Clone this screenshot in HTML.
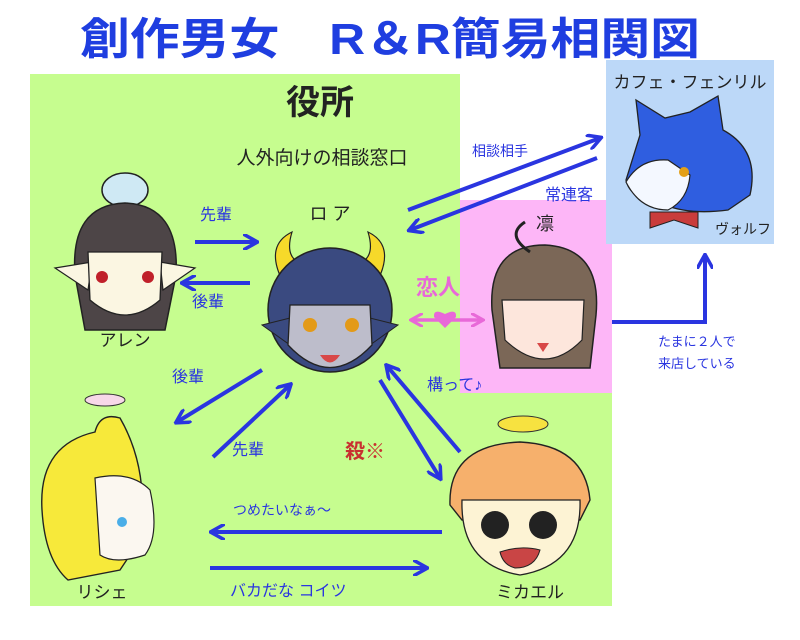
<!DOCTYPE html>
<html><head><meta charset="utf-8"><style>
html,body{margin:0;padding:0;background:#fff;width:800px;height:640px;overflow:hidden}
svg text{font-family:"Liberation Sans","Noto Sans CJK JP",sans-serif}
</style></head><body>
<svg width="800" height="640" viewBox="0 0 800 640" xmlns="http://www.w3.org/2000/svg">
<defs>
<marker id="a" viewBox="0 0 10 10" refX="8" refY="5" markerWidth="4" markerHeight="4" orient="auto-start-reverse"><path d="M0,0 L9,5 L0,10" fill="none" stroke="#2a35e0" stroke-width="2.2"/></marker>
<marker id="p" viewBox="0 0 10 10" refX="8" refY="5" markerWidth="4" markerHeight="4" orient="auto-start-reverse"><path d="M0,0 L9,5 L0,10" fill="none" stroke="#e868d8" stroke-width="2.2"/></marker>
</defs>
<rect x="30" y="74" width="430" height="532" fill="#c6fd8f"/>
<rect x="460" y="393" width="152" height="213" fill="#c6fd8f"/>
<rect x="460" y="200" width="152" height="193" fill="#fdb6f7"/>
<rect x="606" y="60" width="168" height="184" fill="#bcd8f8"/>
<text x="390" y="54" font-size="44" font-weight="bold" fill="#1f3ee0" text-anchor="middle" textLength="620" lengthAdjust="spacingAndGlyphs">創作男女　R＆R簡易相関図</text>
<text x="320" y="114" font-size="34" font-weight="bold" fill="#222" text-anchor="middle">役所</text>
<text x="322" y="164" font-size="19" fill="#222" text-anchor="middle">人外向けの相談窓口</text>
<text x="690" y="88" font-size="17" fill="#222" text-anchor="middle">カフェ・フェンリル</text>
<!-- Allen -->
<ellipse cx="125" cy="190" rx="23" ry="17" fill="#cfe9f4" stroke="#222" stroke-width="1.5"/>
<path d="M75,275 Q70,205 125,203 Q180,205 176,275 L165,330 L85,330 Z" fill="#4d4547" stroke="#222" stroke-width="1.5"/>
<path d="M55,268 L92,262 L88,290 Z M195,268 L160,262 L163,290 Z" fill="#fbf6e2" stroke="#222" stroke-width="1.2"/>
<path d="M88,252 L162,252 L160,300 Q125,330 90,300 Z" fill="#fbf6e2" stroke="#222" stroke-width="1.3"/>
<circle cx="102" cy="277" r="6" fill="#c0202a"/><circle cx="148" cy="277" r="6" fill="#c0202a"/>
<text x="125" y="346" font-size="17" fill="#222" text-anchor="middle">アレン</text>
<!-- Roa -->
<path d="M282,280 Q265,245 292,232 Q285,255 298,262 Z M378,280 Q395,245 368,232 Q375,255 362,262 Z" fill="#f6d92a" stroke="#222" stroke-width="1.2"/>
<ellipse cx="330" cy="310" rx="62" ry="62" fill="#3a4a80" stroke="#222" stroke-width="1.5"/>
<path d="M262,325 L290,318 L290,345 Z M398,325 L370,318 L370,345 Z" fill="#3a4a80" stroke="#222"/>
<path d="M290,305 L370,305 L372,345 Q330,390 288,345 Z" fill="#bdbdcb" stroke="#222" stroke-width="1.3"/>
<circle cx="310" cy="325" r="7" fill="#e39a18"/><circle cx="352" cy="325" r="7" fill="#e39a18"/>
<path d="M320,355 L340,355 Q330,370 320,355Z" fill="#d84848"/>
<text x="330" y="220" font-size="18" fill="#222" text-anchor="middle">ロ ア</text>
<!-- Rin -->
<path d="M492,310 Q488,245 545,245 Q602,248 596,315 L590,368 L500,368 Z" fill="#7b6757" stroke="#222" stroke-width="1.5"/>
<path d="M502,300 L584,300 L582,340 Q545,378 505,340 Z" fill="#fde6dc" stroke="#222" stroke-width="1.2"/>
<path d="M530,252 Q505,235 525,222" fill="none" stroke="#222" stroke-width="3"/>
<path d="M537,343 L549,343 L543,352Z" fill="#d84848"/>
<text x="545" y="230" font-size="18" fill="#222" text-anchor="middle">凛</text>
<!-- Wolf -->
<path d="M640,135 L636,100 L665,118 L690,112 L718,96 L723,130 Q760,150 750,195 L728,210 Q690,215 665,205 Q630,200 626,180 Z" fill="#2f5ee0" stroke="#222" stroke-width="1.3"/>
<path d="M626,182 Q640,158 668,160 L690,175 Q688,200 668,210 Q640,210 626,182 Z" fill="#f4f8ff" stroke="#222" stroke-width="1.2"/>
<path d="M650,212 L698,212 L698,228 L674,220 L650,228Z" fill="#c93c3c" stroke="#222" stroke-width="1"/>
<circle cx="684" cy="172" r="5" fill="#e3a018"/>
<text x="743" y="234" font-size="14" fill="#222" text-anchor="middle">ヴォルフ</text>
<!-- Rishe -->
<ellipse cx="105" cy="400" rx="20" ry="6" fill="#f7d8e8" stroke="#333" stroke-width="1"/>
<path d="M42,510 Q38,445 95,432 Q100,412 120,418 Q150,470 140,540 L120,570 L68,580 Q45,560 42,510Z" fill="#f7e93a" stroke="#222" stroke-width="1.4"/>
<path d="M95,478 Q130,470 150,490 Q160,535 145,555 Q115,565 100,555 Z" fill="#fbf7f0" stroke="#222" stroke-width="1.2"/>
<circle cx="122" cy="522" r="5" fill="#4aaee8"/>
<text x="102" y="598" font-size="17" fill="#222" text-anchor="middle">リシェ</text>
<!-- Mikael -->
<ellipse cx="523" cy="424" rx="25" ry="8" fill="#f7e240" stroke="#333" stroke-width="1"/>
<path d="M450,505 Q448,445 520,442 Q585,445 590,500 L580,520 L462,520Z" fill="#f6b06c" stroke="#222" stroke-width="1.4"/>
<path d="M462,500 L580,500 Q582,565 520,575 Q460,565 462,500Z" fill="#fdf3d4" stroke="#222" stroke-width="1.3"/>
<circle cx="495" cy="525" r="14" fill="#222"/><circle cx="543" cy="525" r="14" fill="#222"/>
<path d="M500,552 Q520,545 540,550 Q535,568 515,568 Q503,565 500,552Z" fill="#c94545" stroke="#222"/>
<text x="530" y="598" font-size="17" fill="#222" text-anchor="middle">ミカエル</text>
<g stroke="#2a35e0" stroke-width="4" fill="none" marker-end="url(#a)">
<line x1="195" y1="242" x2="256" y2="242"/>
<line x1="250" y1="283" x2="183" y2="283"/>
<line x1="408" y1="210" x2="600" y2="138"/>
<line x1="597" y1="158" x2="410" y2="230"/>
<polyline points="612,322 705,322 705,256"/>
<line x1="262" y1="370" x2="177" y2="422"/>
<line x1="213" y1="457" x2="290" y2="385"/>
<line x1="380" y1="380" x2="440" y2="478"/>
<line x1="460" y1="452" x2="387" y2="366"/>
<line x1="442" y1="532" x2="212" y2="532"/>
<line x1="210" y1="568" x2="426" y2="568"/>
</g>
<line x1="412" y1="320" x2="482" y2="320" stroke="#e868d8" stroke-width="3.5" marker-end="url(#p)" marker-start="url(#p)"/>
<path d="M445,328 L434,317 Q433,308 445,314 Q457,308 456,317Z" fill="#e868d8"/>
<g fill="#2a35e0" font-size="16">
<text x="200" y="220">先輩</text>
<text x="192" y="307">後輩</text>
<text x="472" y="156" font-size="14">相談相手</text>
<text x="545" y="200">常連客</text>
<text x="658" y="346" font-size="13">たまに２人で</text>
<text x="658" y="368" font-size="13">来店している</text>
<text x="172" y="382">後輩</text>
<text x="232" y="455">先輩</text>
<text x="427" y="390">構って♪</text>
<text x="233" y="515" font-size="14">つめたいなぁ～</text>
<text x="230" y="596" font-size="16">バカだな コイツ</text>
</g>
<text x="438" y="295" font-size="22" font-weight="bold" fill="#e868d8" text-anchor="middle">恋人</text>
<text x="345" y="458" font-size="20" font-weight="bold" fill="#c83030">殺※</text>
</svg>
</body></html>
